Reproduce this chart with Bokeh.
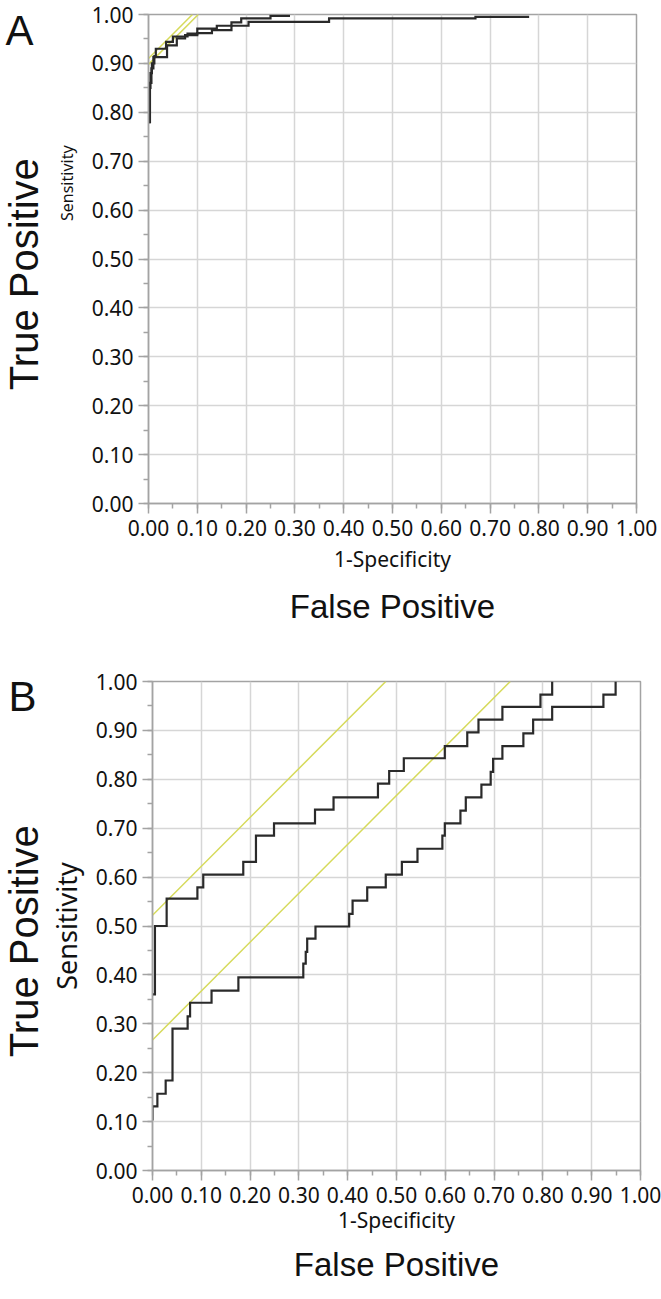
import math
from bokeh.plotting import figure
from bokeh.models import Range1d, SingleIntervalTicker, PrintfTickFormatter, Title, ColumnDataSource
from bokeh.core.properties import value
from bokeh.layouts import column, row
from bokeh.embed import file_html
from bokeh.resources import INLINE

# ---------------- data ----------------
# Panel A: two ROC curves (step breakpoints: at fpr[i] the curve rises to tpr[i])
A1_fpr = [0.0, 0.002, 0.004, 0.007, 0.012, 0.015, 0.036, 0.05, 0.08, 0.10, 0.14, 0.17, 0.19, 0.25, 0.29]
A1_tpr = [0.78, 0.85, 0.88, 0.90, 0.915, 0.93, 0.944, 0.955, 0.961, 0.971, 0.977, 0.984, 0.992, 0.997, 0.997]
A2_fpr = [0.0, 0.003, 0.006, 0.010, 0.038, 0.058, 0.075, 0.10, 0.13, 0.17, 0.205, 0.37, 0.67, 0.78]
A2_tpr = [0.78, 0.86, 0.89, 0.913, 0.937, 0.951, 0.958, 0.962, 0.968, 0.977, 0.985, 0.992, 0.995, 0.995]
A_youden = [0.91, 0.898]

# Panel B: two ROC curves
B1_fpr = [0.0, 0.005, 0.029, 0.092, 0.104, 0.186, 0.212, 0.249, 0.333, 0.371, 0.462,
          0.485, 0.515, 0.599, 0.645, 0.668, 0.717, 0.795, 0.819]
B1_tpr = [0.36, 0.50, 0.556, 0.579, 0.605, 0.631, 0.685, 0.710, 0.738, 0.763, 0.791,
          0.817, 0.843, 0.868, 0.896, 0.922, 0.948, 0.973, 1.0]
B2_fpr = [0.0, 0.0, 0.010, 0.027, 0.041, 0.072, 0.077, 0.121, 0.176, 0.309, 0.314, 0.317,
          0.334, 0.403, 0.41, 0.44, 0.478, 0.511, 0.543, 0.594, 0.599, 0.631, 0.642, 0.674,
          0.693, 0.698, 0.717, 0.760, 0.780, 0.819, 0.924, 0.949]
B2_tpr = [0.102, 0.131, 0.157, 0.184, 0.290, 0.315, 0.343, 0.368, 0.395, 0.423, 0.447, 0.474,
          0.499, 0.525, 0.552, 0.579, 0.605, 0.631, 0.658, 0.685, 0.710, 0.736, 0.763, 0.789,
          0.815, 0.842, 0.868, 0.894, 0.922, 0.948, 0.973, 1.0]
B_youden = [0.522, 0.267]

X_LABEL = "1-Specificity"
Y_LABEL = "Sensitivity"
X_TITLE = "False Positive"
Y_TITLE = "True Positive"

CURVE = "#2a2a2a"
YELLOW = "#d6da5a"
AXIS = "#a3a3a3"
GRID = "#d6d6d6"
TEXT = "#111111"
TICKFONT = "Noto Sans"
BIGFONT = "Liberation Sans"
PAGE_W = 661
LEFT_W = 88
FRAME = 488


def staircase(fpr, tpr):
    xs, ys = [fpr[0]], [tpr[0]]
    for i in range(1, len(fpr)):
        xs += [fpr[i], fpr[i]]
        ys += [tpr[i - 1], tpr[i]]
    return xs, ys


def side_panel(height, b_top, b_bottom, letter, letter_pos, title_pos, lab_pos, lab_size):
    # narrow text-only figure; its frame lines up with the plot frame next to it:
    # x in pixels from its left edge, y in the plot's 0..1 units
    s = figure(width=LEFT_W, height=height, output_backend="svg", toolbar_location=None,
               x_range=Range1d(0, LEFT_W), y_range=Range1d(0, 1),
               x_axis_type=None, y_axis_type=None,
               min_border_left=0, min_border_right=0,
               min_border_top=b_top, min_border_bottom=b_bottom)
    s.outline_line_color = None
    s.grid.visible = False
    s.background_fill_color = None
    s.border_fill_color = None

    def add(text, pos, font, size, angle):
        src = ColumnDataSource(dict(x=[pos[0]], y=[pos[1]], t=[text]))
        s.text(x="x", y="y", text="t", source=src, angle=angle, text_align="center",
               text_baseline="middle", text_font=value(font), text_font_size=size,
               text_color=TEXT)

    add(letter, letter_pos, BIGFONT, "42px", 0.0)
    add(Y_TITLE, title_pos, BIGFONT, "40px", math.pi / 2)
    add(Y_LABEL, lab_pos, TICKFONT, lab_size, math.pi / 2)
    return s


def main_panel(curves, youden, height, b_left, b_top, b_bottom, lab_standoff, title_standoff):
    w = PAGE_W - LEFT_W
    p = figure(width=w, height=height, output_backend="svg", toolbar_location=None,
               x_range=Range1d(0, 1), y_range=Range1d(0, 1),
               min_border_left=b_left, min_border_right=w - b_left - FRAME,
               min_border_top=b_top, min_border_bottom=b_bottom)
    p.outline_line_color = AXIS
    p.outline_line_width = 1.5
    for ax in (p.xaxis, p.yaxis):
        ax.ticker = SingleIntervalTicker(interval=0.1, num_minor_ticks=2)
        ax.formatter = PrintfTickFormatter(format="%.2f")
        ax.axis_line_color = AXIS
        ax.axis_line_width = 1.5
        ax.major_tick_line_color = AXIS
        ax.minor_tick_line_color = AXIS
        ax.major_tick_line_width = 1.5
        ax.minor_tick_line_width = 1.5
        ax.major_tick_out = 10
        ax.major_tick_in = 0
        ax.minor_tick_out = 5
        ax.minor_tick_in = 0
        ax.major_label_text_font = TICKFONT
        ax.major_label_text_font_size = "21px"
        ax.major_label_text_color = TEXT
    p.xaxis.major_label_standoff = 6
    p.yaxis.major_label_standoff = 5
    p.xaxis.axis_label = X_LABEL
    p.xaxis.axis_label_text_font = TICKFONT
    p.xaxis.axis_label_text_font_size = "21px"
    p.xaxis.axis_label_text_font_style = "normal"
    p.xaxis.axis_label_text_color = TEXT
    p.xaxis.axis_label_standoff = lab_standoff
    p.add_layout(Title(text=X_TITLE, align="center", text_font=BIGFONT, text_font_size="33px",
                       text_font_style="normal", text_color=TEXT, standoff=title_standoff),
                 "below")
    p.grid.grid_line_color = GRID
    p.grid.grid_line_width = 1.5
    for c in youden:
        p.line([0, 1 - c], [c, 1.0], line_color=YELLOW, line_width=1.5)
    for fpr, tpr in curves:
        xs, ys = staircase(fpr, tpr)
        p.line(xs, ys, line_color=CURVE, line_width=2.2, line_join="miter")
    return p


# panel A: frame at x 148..636, y 14..503 ; panel B: frame at x 152..640, y 681..1170
HA = 639
HB = 1299 - HA
A_TOP, A_BOT = 14, HA - 14 - 489
B_TOP = 681 - HA
B_BOT = HB - B_TOP - 489

sA = side_panel(HA, A_TOP, A_BOT, "A", (19, 0.967), (23, 0.469), (66, 0.655), "16px")
pA = main_panel([(A1_fpr, A1_tpr), (A2_fpr, A2_tpr)], A_youden, HA,
                148 - LEFT_W, A_TOP, A_BOT, 6, 20)
sB = side_panel(HB, B_TOP, B_BOT, "B", (22, 0.969), (23, 0.469), (66, 0.5), "27px")
pB = main_panel([(B1_fpr, B1_tpr), (B2_fpr, B2_tpr)], B_youden, HB,
                152 - LEFT_W, B_TOP, B_BOT, 0, 15)

layout = column(row(sA, pA, spacing=0), row(sB, pB, spacing=0), spacing=0)
open("out.html", "w").write(file_html(layout, INLINE))
